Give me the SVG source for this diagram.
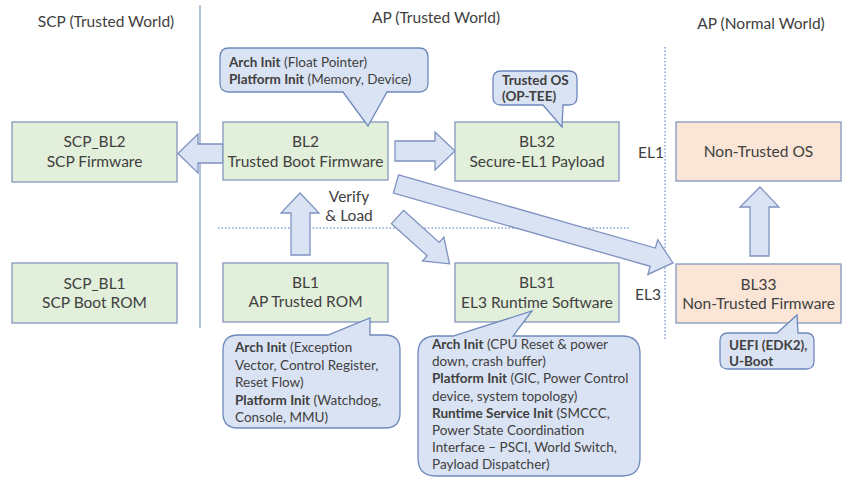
<svg xmlns="http://www.w3.org/2000/svg" width="854" height="487" viewBox="0 0 854 487">
<style>
text{font-family:Lato,"Liberation Sans",sans-serif;fill:#404040}
.h{font-size:15.5px;text-anchor:middle}
.t{font-size:15.5px;text-anchor:middle}
.c{font-size:13.5px}
.b{font-weight:bold}
.g{fill:#E2EFDA;stroke:#8497BE;stroke-width:1.3}
.o{fill:#FBE5D6;stroke:#8497BE;stroke-width:1.3}
.co{fill:#DAE3F3;stroke:#6F89BD;stroke-width:1.3}
.ar{fill:#DAE3F3;stroke:#7F93C0;stroke-width:1.3}
.sep{stroke:#8A9FCB;stroke-width:1.3;fill:none}
.dot{stroke:#4D6FBF;stroke-width:1;stroke-dasharray:1.5 2;fill:none}
</style>
<rect width="854" height="487" fill="#FFFFFF"/>
<g id="dividers">
<line class="sep" x1="200" y1="5" x2="200" y2="328"/>
<line class="dot" x1="665" y1="47" x2="665" y2="340"/>
<line class="dot" x1="218" y1="228" x2="630" y2="228"/>
</g>
<g id="headers">
<text class="h" x="106" y="27">SCP (Trusted World)</text>
<text class="h" x="436" y="23">AP (Trusted World)</text>
<text class="h" x="761" y="29">AP (Normal World)</text>
<text class="t" x="349" y="202">Verify</text>
<text class="t" x="349" y="221">&amp; Load</text>
<text class="t" x="651" y="158">EL1</text>
<text class="t" x="648" y="300">EL3</text>
</g>
<g id="connectors">
<polygon class="ar" points="223,144 198,144 198,134 178,153.5 198,173 198,163 223,163"/>
<polygon class="ar" points="395,141 435,141 435,132 455,151 435,170 435,161 395,161"/>
<polygon class="ar" points="291,255 291,213 281,213 300,193 319,213 310,213 310,255"/>
<polygon class="ar" points="750,256 750,207 740,207 760,187 779,207 769,207 769,256"/>
<polygon class="ar" transform="translate(397.5,217) rotate(42)" points="0,-9 48,-9 48,-16 70,0 48,16 48,9 0,9"/>
<polygon class="ar" transform="translate(396,184) rotate(15.9)" points="0,-9.5 267,-9.5 267,-18 288,0 267,18 267,9.5 0,9.5"/>
</g>
<g id="scp_bl2">
<rect class="g" x="12" y="122" width="165" height="60"/>
<text class="t" x="94.5" y="147">SCP_BL2</text>
<text class="t" x="94.5" y="167">SCP Firmware</text>
</g>
<g id="scp_bl1">
<rect class="g" x="12" y="263" width="165" height="60"/>
<text class="t" x="94.5" y="289">SCP_BL1</text>
<text class="t" x="94.5" y="308">SCP Boot ROM</text>
</g>
<g id="bl2">
<rect class="g" x="223" y="122" width="165" height="58"/>
<text class="t" x="305.5" y="147">BL2</text>
<text class="t" x="305.5" y="167">Trusted Boot Firmware</text>
</g>
<g id="bl32">
<rect class="g" x="455" y="122" width="164" height="59"/>
<text class="t" x="537" y="147">BL32</text>
<text class="t" x="537" y="167">Secure-EL1 Payload</text>
</g>
<g id="bl1">
<rect class="g" x="223" y="263" width="165" height="59"/>
<text class="t" x="305.5" y="288">BL1</text>
<text class="t" x="305.5" y="307">AP Trusted ROM</text>
</g>
<g id="bl31">
<rect class="g" x="455" y="263" width="164" height="59"/>
<text class="t" x="537" y="288">BL31</text>
<text class="t" x="537" y="308">EL3 Runtime Software</text>
</g>
<g id="non_trusted_os">
<rect class="o" x="676" y="122" width="165" height="59"/>
<text class="t" x="758.5" y="157">Non-Trusted OS</text>
</g>
<g id="bl33">
<rect class="o" x="676" y="264" width="165" height="59"/>
<text class="t" x="758.5" y="290">BL33</text>
<text class="t" x="758.5" y="309">Non-Trusted Firmware</text>
</g>
<g id="callout_bl2">
<path class="co" d="M229,48 H419 Q428,48 428,57 V83 Q428,92 419,92 H387 L368,126 L343,92 H229 Q220,92 220,83 V57 Q220,48 229,48 Z"/>
<text class="c" x="229" y="67"><tspan class="b">Arch Init</tspan> (Float Pointer)</text>
<text class="c" x="229" y="84"><tspan class="b">Platform Init</tspan> (Memory, Device)</text>
</g>
<g id="callout_bl32">
<path class="co" d="M501,71 H569 Q577,71 577,79 V97 Q577,105 569,105 H563 L562,127 L543,105 H501 Q493,105 493,97 V79 Q493,71 501,71 Z"/>
<text class="c b" x="502" y="85">Trusted OS</text>
<text class="c b" x="502" y="101">(OP-TEE)</text>
</g>
<g id="callout_bl1">
<path class="co" d="M238,335 H328 L370,318 V335 H385 Q400,335 400,350 V413 Q400,428 385,428 H238 Q223,428 223,413 V350 Q223,335 238,335 Z"/>
<text class="c" x="235" y="352"><tspan class="b">Arch Init</tspan> (Exception</text>
<text class="c" x="235" y="369.5">Vector, Control Register,</text>
<text class="c" x="235" y="387">Reset Flow)</text>
<text class="c" x="235" y="404.5"><tspan class="b">Platform Init</tspan> (Watchdog,</text>
<text class="c" x="235" y="422">Console, MMU)</text>
</g>
<g id="callout_bl31">
<path class="co" d="M436,336 H453 L532,311 L513,336 H622 Q640,336 640,354 V458 Q640,476 622,476 H436 Q418,476 418,458 V354 Q418,336 436,336 Z"/>
<text class="c" x="432" y="349"><tspan class="b">Arch Init</tspan> (CPU Reset &amp; power</text>
<text class="c" x="432" y="366.2">down, crash buffer)</text>
<text class="c" x="432" y="383.4"><tspan class="b">Platform Init</tspan> (GIC, Power Control</text>
<text class="c" x="432" y="400.6">device, system topology)</text>
<text class="c" x="432" y="417.8"><tspan class="b">Runtime Service Init</tspan> (SMCCC,</text>
<text class="c" x="432" y="435">Power State Coordination</text>
<text class="c" x="432" y="452.2">Interface – PSCI, World Switch,</text>
<text class="c" x="432" y="469.4">Payload Dispatcher)</text>
</g>
<g id="callout_bl33">
<path class="co" d="M728,333 H777 L797,315 L798,333 H806 Q814,333 814,341 V361 Q814,369 806,369 H728 Q720,369 720,361 V341 Q720,333 728,333 Z"/>
<text class="c b" x="729" y="350">UEFI (EDK2),</text>
<text class="c b" x="729" y="366">U-Boot</text>
</g>
</svg>
